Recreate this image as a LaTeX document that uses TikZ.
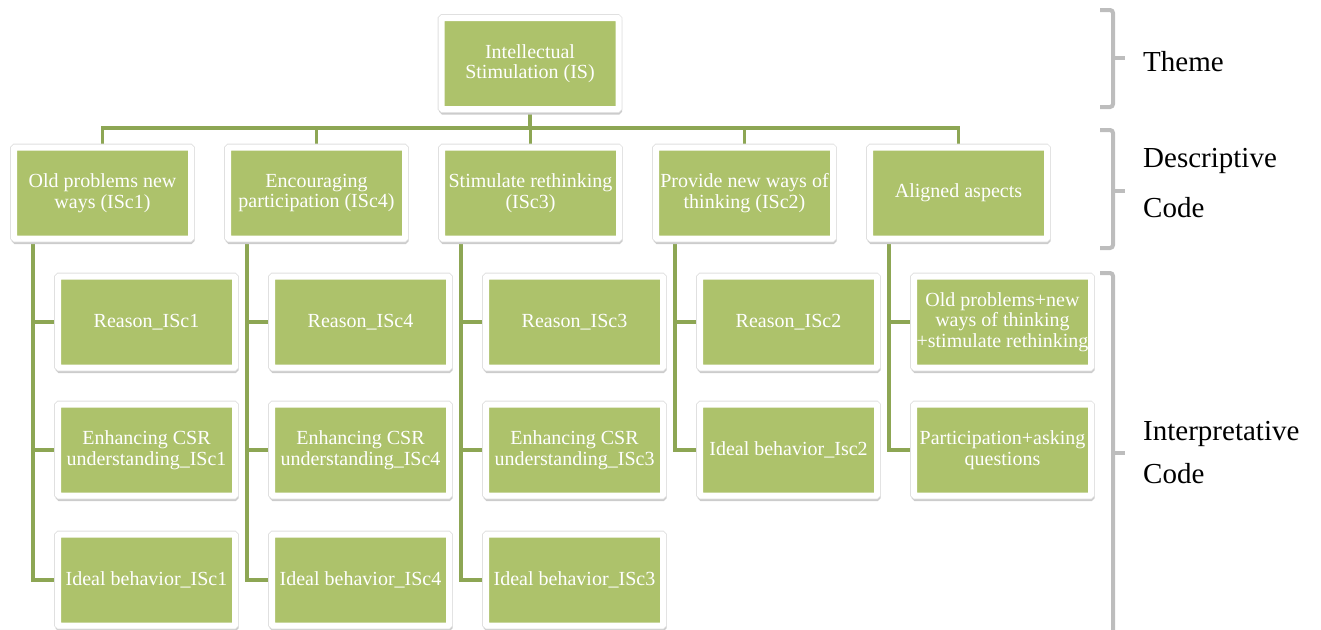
\documentclass[tikz,border=0pt]{standalone}
\usepackage{fontspec}
\setmainfont{Liberation Serif}
\usetikzlibrary{backgrounds}
\definecolor{boxgreen}{RGB}{173,194,107}
\definecolor{linkgreen}{RGB}{141,166,84}
\definecolor{bracketgray}{RGB}{189,189,189}
\begin{document}
\begin{tikzpicture}[x=1pt,y=-1pt,
  card/.style={
    preaction={fill=black!20, draw=black!20, line width=6pt,
               transform canvas={shift={(0.5pt,-2.5pt)}}},
    preaction={draw=black!12, line width=7.6pt},
    draw=white, line width=6pt, fill=boxgreen, rounded corners=1pt,
    minimum width=177pt, minimum height=91pt, inner sep=0pt,
    text=white, align=center, font=\fontsize{20}{20.5}\selectfont},
  link/.style={draw=linkgreen, line width=3.5pt},
  brace/.style={draw=bracketgray, line width=4pt, rounded corners=3pt},
  tag/.style={anchor=base west, inner sep=0pt, font=\fontsize{29}{29}\selectfont}]
\useasboundingbox (0,0) rectangle (1321,629);

% theme
\node[card] (top) at (530,63.5) {Intellectual\\Stimulation (IS)};

% descriptive codes
\node[card] (d1) at (102.5,193) {Old problems new\\ways (ISc1)};
\node[card] (d2) at (316.5,193) {Encouraging\\participation (ISc4)};
\node[card] (d3) at (530.5,193) {Stimulate rethinking\\(ISc3)};
\node[card] (d4) at (744.5,193) {Provide new ways of\\thinking (ISc2)};
\node[card] (d5) at (958.5,193) {Aligned aspects};

% interpretative codes
\node[card] (i1a) at (146.5,322) {Reason\_ISc1};
\node[card] (i1b) at (146.5,450) {Enhancing CSR\\understanding\_ISc1};
\node[card] (i1c) at (146.5,580) {Ideal behavior\_ISc1};

\node[card] (i2a) at (360.5,322) {Reason\_ISc4};
\node[card] (i2b) at (360.5,450) {Enhancing CSR\\understanding\_ISc4};
\node[card] (i2c) at (360.5,580) {Ideal behavior\_ISc4};

\node[card] (i3a) at (574.5,322) {Reason\_ISc3};
\node[card] (i3b) at (574.5,450) {Enhancing CSR\\understanding\_ISc3};
\node[card] (i3c) at (574.5,580) {Ideal behavior\_ISc3};

\node[card] (i4a) at (788.5,322) {Reason\_ISc2};
\node[card] (i4b) at (788.5,450) {Ideal behavior\_Isc2};

\node[card] (i5a) at (1002.5,322) {Old problems+new\\ways of thinking\\+stimulate rethinking};
\node[card] (i5b) at (1002.5,450) {Participation+asking\\questions};

% connectors
\begin{scope}[on background layer]
  \foreach \d in {d1,d2,d3,d4,d5}
    \draw[link] (top.south) -- ++(0,16) -| (\d.north);
  \foreach \d/\k in {d1/i1a,d1/i1b,d1/i1c,d2/i2a,d2/i2b,d2/i2c,
                     d3/i3a,d3/i3b,d3/i3c,d4/i4a,d4/i4b,d5/i5a,d5/i5b}
    \draw[link] ([xshift=22pt]\d.south west) |- (\k.west);
\end{scope}

% level brackets
\draw[brace] (1100,10) -- (1113,10) -- (1113,107) -- (1100,107);
\draw[brace] (1113,58) -- (1125,58);
\draw[brace] (1100,130) -- (1113,130) -- (1113,248) -- (1100,248);
\draw[brace] (1113,191) -- (1125,191);
\draw[brace] (1100,273) -- (1113,273) -- (1113,640);
\draw[brace] (1113,453) -- (1125,453);

% level labels
\node[tag] (theme) at (1143,71) {Theme};
\node[tag] (desc1) at (1143,167) {Descriptive};
\node[tag] (desc2) at (1143,217) {Code};
\node[tag] (interp1) at (1143,440) {Interpretative};
\node[tag] (interp2) at (1143,483) {Code};
\end{tikzpicture}
\end{document}
